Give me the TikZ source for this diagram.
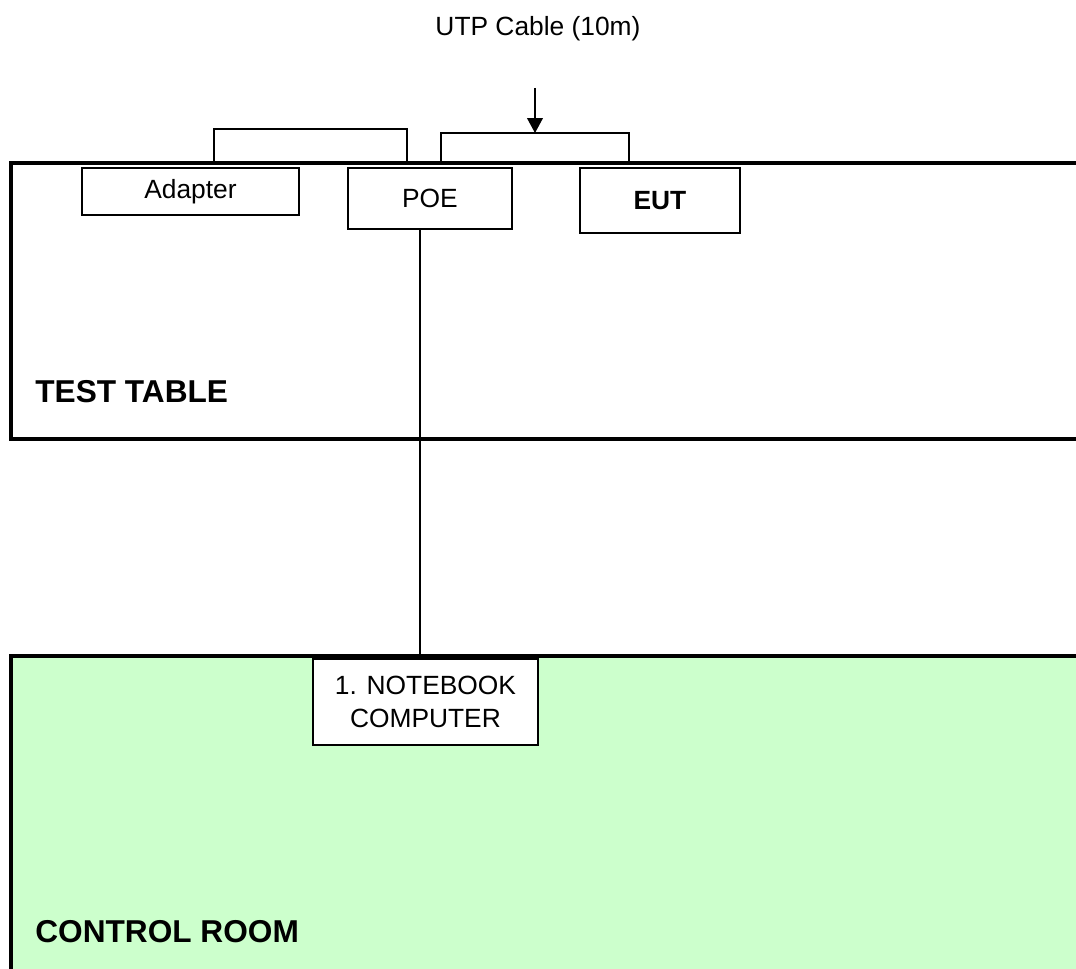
\documentclass[tikz,border=0pt]{standalone}
\usepackage{fontspec}
\setmainfont{Liberation Sans}
\usetikzlibrary{positioning,arrows.meta,calc}
\definecolor{roomgreen}{HTML}{CCFFCC}

\begin{document}
\begin{tikzpicture}[x=0.02cm,y=-0.02cm,
    box/.style={draw,line width=1.1pt,fill=white,inner sep=2pt,align=center,
      font=\fontsize{15}{19}\selectfont,anchor=north west},
    wall/.style={line width=2.6pt},
    cable/.style={line width=1.1pt},
    roomlabel/.style={anchor=base west,inner sep=0pt,font=\fontsize{18}{20}\selectfont\bfseries}]
  \useasboundingbox (0,0) rectangle (1076,969);
  \clip (0,0) rectangle (1076,969);
  % the two rooms
  \fill[roomgreen] (11,656) rectangle (1100,1000);
  \draw[wall] (1100,656) -- (11,656) -- (11,1000);
  \draw[wall] (1100,163) -- (11,163) -- (11,439) -- (1100,439);
  \node (table) [roomlabel] at (35,403) {TEST TABLE};
  \node (room) [roomlabel] at (35,942) {CONTROL ROOM};
  % equipment on the table
  \node (adapter) [box,minimum width=4.34cm,minimum height=0.94cm] at (81,167) {Adapter};
  \node (poe) [box,minimum width=3.28cm,minimum height=1.22cm] at (347,167) {POE};
  \node (eut) [box,minimum width=3.2cm,minimum height=1.3cm,font=\fontsize{15}{19}\selectfont\bfseries] at (579,167) {EUT};
  \node (nb) [box,minimum width=4.5cm,minimum height=1.72cm] at (312,658) {1. NOTEBOOK\\COMPUTER};
  % cables
  \draw[cable] ($(adapter.north)+(23.5,-4)$) |- ($(poe.north)+(-23,-38)$) -- ($(poe.north)+(-23,-4)$);
  \draw[cable] ($(poe.north)+(11,-4)$) |- ($(eut.north)+(-31,-34)$) -- ($(eut.north)+(-31,-4)$);
  \coordinate (poeout) at ($(poe.south)+(-10,0)$);
  \draw[cable] (poeout) -- (poeout |- nb.north);
  % cable label
  \node (utp) [anchor=base,font=\fontsize{15}{19}\selectfont] at (538,36) {UTP Cable (10m)};
  \coordinate (utpfoot) at (535,88);
  \coordinate (cabletop) at ($(eut.north)+(0,-34)$);
  \draw[line width=0.7pt,-{Triangle[length=8.5pt,width=9pt]}] (utpfoot) -- (utpfoot |- cabletop);
\end{tikzpicture}
\end{document}
